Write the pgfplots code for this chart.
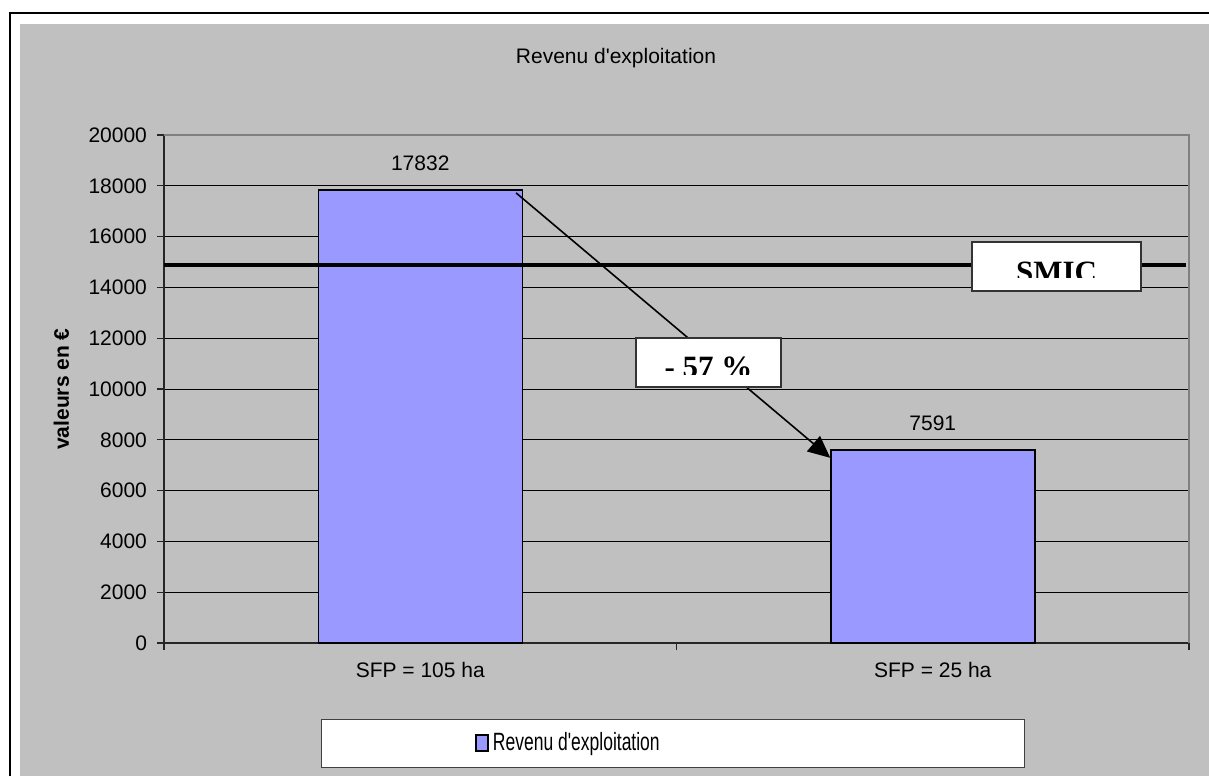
\documentclass[border=0pt]{standalone}
\usepackage{fontspec}
\setmainfont{Liberation Sans}
\newfontfamily\serifb{Liberation Serif}
\usepackage{graphicx}
\usepackage{pgfplots}
\pgfplotsset{compat=1.18}
\usetikzlibrary{arrows.meta}
\definecolor{bg}{HTML}{C0C0C0}
\definecolor{barc}{HTML}{9999FF}
\begin{document}
\begin{tikzpicture}
\begin{scope}[x=0.5pt,y=-0.5pt,yshift=388pt]
\fill[white] (0,0) rectangle (1209,776);
\fill[bg] (20,24) rectangle (1209,776);
\draw[black, line width=1pt] (10,776) -- (10,13) -- (1209,13);
\node[font=\fontsize{10.5}{12}\selectfont] at (616,58) {Revenu d\textquotesingle exploitation};
\filldraw[fill=white, draw=black!75, line width=0.5pt] (321,719) rectangle (1024,767);
\end{scope}
\begin{axis}[
  at={(82pt,66.5pt)}, anchor=south west,
  scale only axis, width=512.5pt, height=254pt,
  xmin=-0.5, xmax=1.5, ymin=0, ymax=20000,
  axis x line*=bottom, axis y line*=left,
  axis line style={black!85, line width=0.6pt},
  ytick={0,2000,...,20000},
  scaled y ticks=false,
  ymajorgrids, grid style={black, line width=0.5pt},
  tick align=outside, major tick length=3.5pt,
  tick style={black!85, line width=0.6pt},
  xtick={-0.5,0.5,1.5}, xticklabels={,,},
  extra x ticks={0,1}, extra x tick labels={SFP = 105 ha, SFP = 25 ha},
  extra x tick style={major tick length=0pt, tick label style={yshift=-6pt}},
  ticklabel style={font=\fontsize{10.5}{12}\selectfont},
  /pgf/number format/assume math mode=true,
  /pgf/number format/1000 sep={},
  yticklabel style={xshift=-1.5pt},
  ylabel={valeurs en €},
  every axis y label/.style={at={(axis description cs:-0.1,0.5)}, rotate=90, anchor=center, font=\bfseries\fontsize{10.5}{12}\selectfont},
  legend style={draw=none, fill=none, at={(0.2976,-0.1969)}, anchor=west, font=\fontsize{12.5}{14}\selectfont},
  legend image code/.code={\draw[#1] (0pt,-4pt) rectangle (6pt,4pt);},
  clip=false,
]
\addplot[ybar, bar width=102pt, fill=barc, draw=black, line width=0.75pt,
  nodes near coords,
  every node near coord/.append style={font=\fontsize{10.5}{12}\selectfont, anchor=south, inner sep=0pt, yshift=9.5pt}]
  coordinates {(0,17832) (1,7591)};
\addlegendentry{\scalebox{0.7}[1]{Revenu d\textquotesingle exploitation}}
\addplot[black, line width=2.25pt, forget plot] coordinates {(-0.5,14880) (1.495,14880)};
\draw[gray, line width=1pt] (rel axis cs:0,1) -- (rel axis cs:1,1) -- (rel axis cs:1,0);
\draw[black, line width=0.8pt, -{Triangle[length=11pt,width=10pt]}] (axis cs:0.187,17720) -- (axis cs:0.80,7290);
\end{axis}
\begin{scope}[x=0.5pt,y=-0.5pt,yshift=388pt]
\filldraw[fill=white, draw=black!80, line width=0.6pt] (972,242) rectangle (1141,291);
\begin{scope}
\clip (973,243) rectangle (1140,278);
\node[anchor=base, font=\serifb\bfseries\fontsize{15.5}{18}\selectfont, inner sep=0pt] at (1056.5,282.5) {SMIC};
\end{scope}
\filldraw[fill=white, draw=black!80, line width=0.6pt] (636,338) rectangle (781,387);
\begin{scope}
\clip (637,339) rectangle (780,375);
\node[anchor=base, font=\serifb\bfseries\fontsize{15.5}{18}\selectfont, inner sep=0pt] at (708.5,377.7) {- 57 \%};
\end{scope}
\end{scope}
\pgfresetboundingbox
\useasboundingbox (0,0) rectangle (604.5pt,388pt);
\end{tikzpicture}
\end{document}
